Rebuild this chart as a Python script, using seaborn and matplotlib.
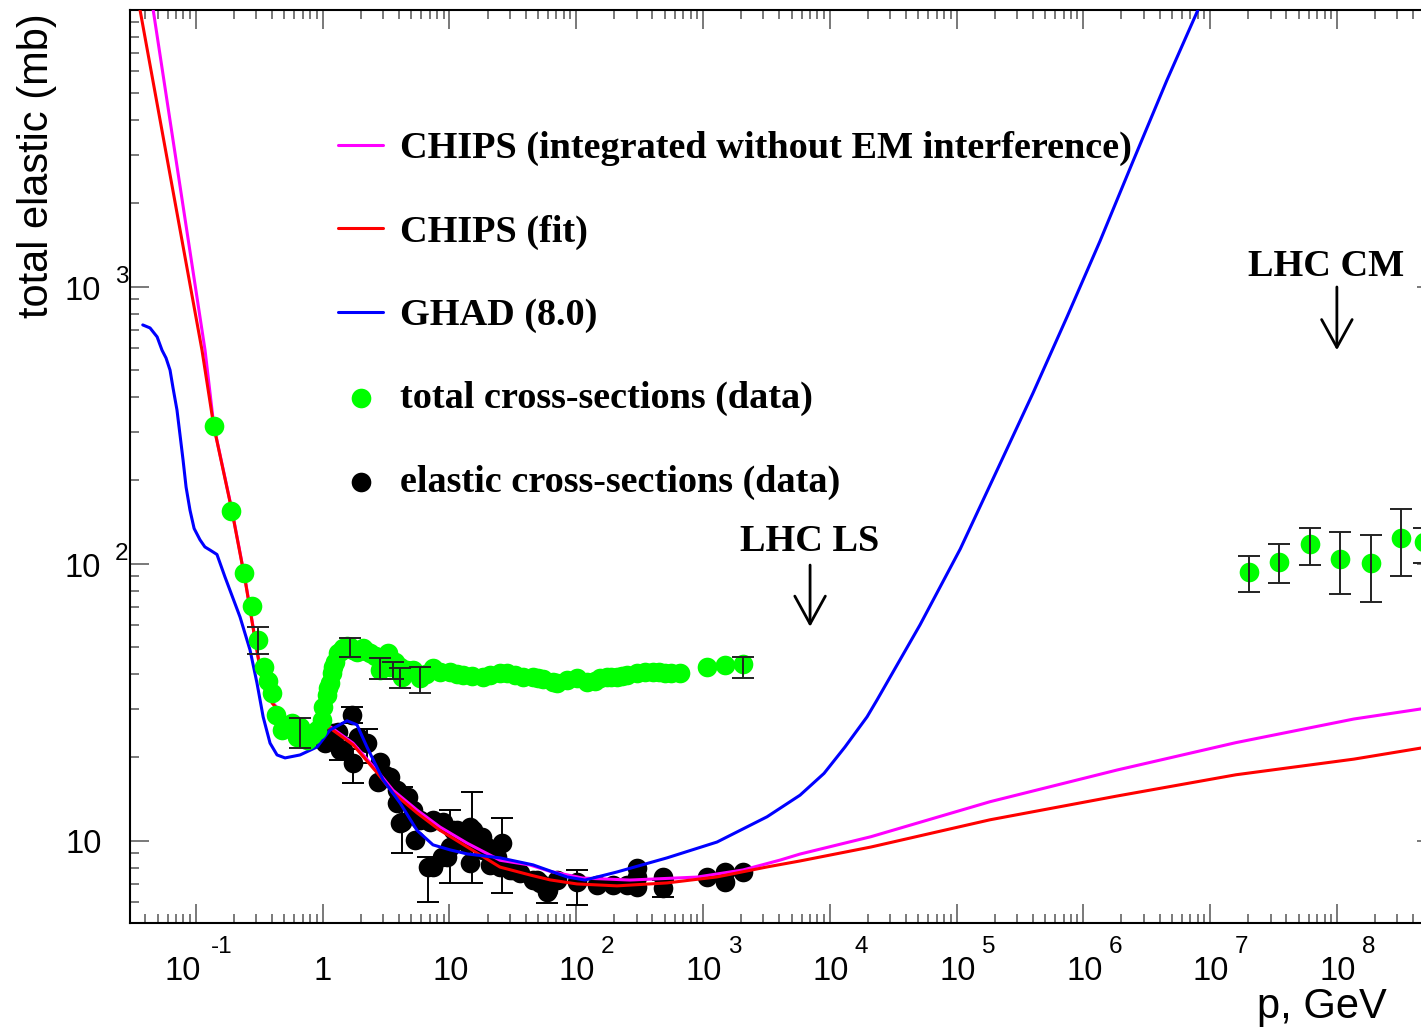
import numpy as np
import pandas as pd
import matplotlib
matplotlib.use("Agg")
import matplotlib.pyplot as plt
from matplotlib.ticker import LogLocator, NullFormatter, FixedLocator
from matplotlib.font_manager import FontProperties
import seaborn as sns

# ---------------- data ----------------
chips_int_p = [0.0447, 0.1184, 0.139, 0.193, 0.245, 0.294, 0.333, 0.400, 0.506, 0.769, 1.146,
               1.74, 2.69, 3.60, 5.56, 8.45, 13.8, 25.1, 43.3, 62.3, 113, 266, 898, 2070, 4055,
               5834, 21180, 1.84e5, 1.85e6, 1.6e7, 1.36e8, 4.6e8, 6.0e8]
chips_int_s = [11000, 590, 314, 156, 88, 53.5, 38.3, 31.7, 28.0, 26.0, 25.8,
               22.5, 17.9, 15.2, 12.9, 11.2, 9.8, 8.5, 8.17, 7.75, 7.33, 7.21, 7.39, 7.84, 8.51,
               8.95, 10.34, 13.83, 18.0, 22.6, 27.5, 29.9, 30.5]

chips_fit_p = [0.0355, 0.112, 0.139, 0.193, 0.245, 0.294, 0.333, 0.400, 0.506, 0.769, 1.146,
               1.74, 2.69, 3.60, 5.56, 8.45, 13.8, 25.1, 43.3, 62.3, 101.6, 210, 521, 1292, 3205,
               5834, 21180, 1.84e5, 1.85e6, 1.6e7, 1.36e8, 4.6e8, 6.0e8]
chips_fit_s = [10600, 590, 312, 155, 87.3, 53, 38, 31.4, 27.7, 25.7, 25.5,
               22.2, 17.6, 14.9, 12.6, 10.9, 9.5, 8.03, 7.52, 7.22, 6.98, 6.87, 7.04, 7.40, 8.04,
               8.45, 9.49, 11.9, 14.5, 17.3, 19.7, 21.6, 21.9]

ghad_p = [0.0382, 0.0436, 0.0496, 0.0542, 0.0583, 0.0627, 0.0662, 0.0711, 0.0752, 0.0794,
          0.0839, 0.0901, 0.0971, 0.108, 0.118, 0.1297, 0.147,
          0.170, 0.2235, 0.268, 0.304, 0.340, 0.3855, 0.4376, 0.506, 0.665, 0.906, 1.146, 1.56,
          1.87, 2.24, 3.00, 4.08, 5.56, 7.43, 10.1, 13.8, 25.1, 45.7, 84.7, 117.5, 210, 521,
          1292, 3205, 5834, 9020, 13200, 19700, 23600, 51500, 1.07e5, 2.20e5, 4.01e5, 7.43e5,
          1.355e6, 2.47e6, 4.57e6, 8.02e6, 1.0e7]
ghad_s = [728, 710, 659, 590, 553, 500, 431, 359, 291, 237,
          189, 156, 134, 122, 115, 112, 108,
          89.6, 64.2, 48.8, 37.1, 28.0, 22.5, 20.4, 19.9, 20.4, 21.8, 25.1, 27.1,
          26.2, 21.8, 16.6, 13.7, 10.9, 9.66, 9.27, 8.96, 8.67, 8.18, 7.40, 7.21, 7.71, 8.67,
          9.89, 12.2, 14.6, 17.5, 21.8, 28.0, 32.2, 60.1, 113, 229, 413, 777,
          1462, 2843, 5574, 9980, 12300]

tot_p = [0.139, 0.190, 0.240, 0.278, 0.310, 0.346, 0.372, 0.400, 0.430, 0.480, 0.575, 0.630,
         0.665, 0.755, 0.827, 0.906, 0.991, 1.009, 1.084, 1.10, 1.146, 1.188, 1.22, 1.255, 1.325,
         1.40, 1.452, 1.55, 1.648, 1.75, 1.87, 2.085, 2.20, 2.37, 2.60, 2.74, 2.84, 3.00, 3.29,
         3.41, 3.70, 4.08, 4.24, 4.60, 5.17, 5.87, 6.50, 7.44, 8.50, 10.1, 11.5, 12.8, 15.0,
         18.4, 21.0, 25.1, 28.5, 33.0, 38.1, 45.7, 50.1, 55.0, 65.8, 70.7, 85.0, 101.6, 122,
         140, 154, 175, 190, 210, 230, 252, 302, 350, 404, 450, 502, 560, 659, 1076, 1493, 2070,
         2.03e7, 3.49e7, 6.13e7, 1.06e8, 1.86e8, 3.2e8, 4.9e8]
tot_s = [314, 155, 92.7, 70.5, 53.1, 42.4, 37.7, 34.2, 28.4, 25.1, 26.6, 23.7,
         25.8, 23.1, 24.1, 25.1, 27.3, 30.4, 33.6, 35.5, 37.1, 40.3, 42.5, 44.2, 47.6,
         48.5, 49.6, 50.5, 50.0, 49.0, 48.0, 49.6, 48.5, 47.6, 46.5, 46.0, 41.3, 45.5, 47.6,
         42.4, 44.0, 42.4, 39.0, 41.5, 41.3, 38.6, 40.0, 42.0, 40.5, 40.6, 40.0, 39.6, 39.3,
         39.0, 39.5, 40.3, 40.3, 39.5, 39.0, 39.0, 38.6, 38.3, 37.4, 37.1, 38.0, 38.6, 37.4,
         37.8, 38.6, 39.0, 39.0, 39.0, 39.3, 39.6, 40.3, 40.5, 40.6, 40.6, 40.3, 40.3, 40.3,
         42.4, 43.1, 43.4,
         93.3, 101.4, 117.8, 104, 100.6, 124, 119.8]
tot_err_p = [0.310, 0.665, 1.648, 2.84, 3.60, 4.08, 5.87, 2070,
             2.03e7, 3.49e7, 6.13e7, 1.06e8, 1.86e8, 3.2e8, 4.9e8]
tot_err_c = [53.1, 25.8, 50.0, 41.3, 41.5, 39.0, 38.6, 43.4,
             93.3, 101.4, 117.8, 104, 100.6, 124, 119.8]
tot_err_lo = [47.2, 21.6, 46.0, 38.4, 38.2, 35.6, 34.1, 38.6,
              79.1, 85.2, 98.9, 77.8, 72.8, 90.3, 100.7]
tot_err_hi = [59.2, 27.7, 54.0, 45.6, 44.0, 42.0, 42.4, 46.0,
              106.6, 117.8, 134.5, 130, 127, 158, 134.5]

el_p = [1.05, 1.15, 1.21, 1.33, 1.37, 1.45, 1.71, 1.74, 1.91, 2.24, 2.84, 2.74, 3.11, 3.41,
        3.87, 3.87, 4.24, 4.73, 4.08, 5.17, 5.36, 5.87, 7.05, 6.79, 7.44, 7.44, 8.76, 8.92,
        9.59, 10.1, 10.7, 11.5, 12.8, 13.8, 14.6, 14.6, 15.1, 15.4, 18.1, 18.4, 19.8, 20.9,
        21.7, 23.8, 25.1, 26.1, 30.1, 31.8, 36.1, 45.7, 49.2, 51.9, 58.9, 60.0, 70.7, 102,
        146, 196, 252, 302, 302, 302, 484, 484, 1076, 1493, 1493, 2070]
el_s = [22.5, 24.1, 24.5, 24.7, 21.3, 21.3, 28.4, 19.1, 23.7, 22.5, 19.2, 16.3, 17.3, 17.0,
        15.2, 13.7, 11.7, 14.4, 11.6, 12.9, 10.1, 11.9, 11.7, 8.04, 11.9, 8.04, 8.73, 11.7,
        8.73, 9.5, 10.9, 10.9, 10.1, 9.81, 11.2, 8.31, 10.3, 10.9, 10.3, 9.26, 9.49, 8.17,
        8.66, 8.73, 8.04, 9.81, 7.84, 7.84, 7.64, 7.21, 7.21, 7.04, 6.53, 6.64, 7.21, 7.10,
        6.92, 6.92, 6.92, 7.97, 6.81, 7.40, 7.40, 6.75, 7.40, 7.71, 7.10, 7.71]
el_err_p = [1.37, 1.71, 1.74, 2.24, 4.24, 6.79, 10.1, 15.1, 26.1, 58.9, 102, 484]
el_err_c = [21.3, 28.4, 19.1, 22.5, 11.7, 8.04, 9.5, 10.3, 9.81, 6.53, 7.10, 6.75]
el_err_lo = [19.5, 26.6, 16.2, 19.1, 9.0, 6.0, 7.04, 7.04, 6.45, 5.96, 5.86, 6.26]
el_err_hi = [23.5, 30.4, 21.5, 25.4, 15.6, 8.73, 12.9, 15.0, 12.1, 7.04, 7.84, 7.20]

lhc_ls_p, lhc_ls_text_s, lhc_ls_arrow = 7000, 111, (98.9, 59.2)
lhc_cm_p, lhc_cm_text_p, lhc_cm_text_s, lhc_cm_arrow = 1.0e8, 8.28e7, 1094, (998, 590)

x_decades = [-1, 0, 1, 2, 3, 4, 5, 6, 7, 8]
y_decades = [1, 2, 3]

labels = {
    "int": "CHIPS (integrated without EM interference)",
    "fit": "CHIPS (fit)",
    "ghad": "GHAD (8.0)",
    "tot": "total cross-sections (data)",
    "el": "elastic cross-sections (data)",
}

# ---------------- style ----------------
sns.set_style("ticks")
plt.rcParams["font.family"] = ["Liberation Sans", "DejaVu Sans"]
plt.rcParams["text.color"] = "black"
plt.rcParams["axes.labelcolor"] = "black"

W, H = 1421, 1031
fig = plt.figure(figsize=(W / 100, H / 100), dpi=100)
ax = fig.add_axes([130 / W, 108 / H, 1306 / W, 913 / H])

lw = 2.2
msize = 200

# elastic data (under the curves)
ax.errorbar(el_err_p, el_err_c,
            yerr=[np.array(el_err_c) - np.array(el_err_lo), np.array(el_err_hi) - np.array(el_err_c)],
            fmt="none", ecolor="black", elinewidth=1.4, capsize=8, capthick=1.4, zorder=2,
            label="_nolegend_")
sns.scatterplot(x=el_p, y=el_s, ax=ax, color="black", s=msize, linewidth=0, zorder=2.2,
                label=labels["el"])

# curves
sns.lineplot(x=chips_int_p, y=chips_int_s, ax=ax, color="#ff00ff", linewidth=lw,
             sort=False, estimator=None, zorder=3, label=labels["int"])
sns.lineplot(x=chips_fit_p, y=chips_fit_s, ax=ax, color="#ff0000", linewidth=lw,
             sort=False, estimator=None, zorder=3.1, label=labels["fit"])
sns.lineplot(x=ghad_p, y=ghad_s, ax=ax, color="#0000ff", linewidth=lw,
             sort=False, estimator=None, zorder=3.2, label=labels["ghad"])

# total data (on top)
sns.scatterplot(x=tot_p, y=tot_s, ax=ax, color="#00ff00", s=msize, linewidth=0, zorder=4,
                label=labels["tot"])
ax.errorbar(tot_err_p, tot_err_c,
            yerr=[np.array(tot_err_c) - np.array(tot_err_lo), np.array(tot_err_hi) - np.array(tot_err_c)],
            fmt="none", ecolor="#222222", elinewidth=1.4, capsize=8, capthick=1.4, zorder=5,
            label="_nolegend_")

# ---------------- axes ----------------
ax.set_xscale("log")
ax.set_yscale("log")
ax.set_xlim(0.0303, 6.05e8)
ax.set_ylim(5.045, 9980)

ax.xaxis.set_major_locator(FixedLocator([10.0 ** e for e in x_decades]))
ax.xaxis.set_minor_locator(LogLocator(base=10, subs=np.arange(2, 10), numticks=1000))
ax.yaxis.set_major_locator(FixedLocator([10.0 ** e for e in y_decades]))
ax.yaxis.set_minor_locator(LogLocator(base=10, subs=np.arange(2, 10), numticks=1000))
for a in (ax.xaxis, ax.yaxis):
    a.set_major_formatter(NullFormatter())
    a.set_minor_formatter(NullFormatter())

ax.tick_params(which="both", direction="in", top=True, right=True, color="#555555",
               width=1.1)
ax.tick_params(which="major", length=13.7)
ax.tick_params(which="minor", length=6.5)
for s in ax.spines.values():
    s.set_linewidth(1.5)
    s.set_color("black")

ax.set_ylabel("")
ax.set_xlabel("")

# tick labels ROOT-style
tfs, efs = 23.5, 17.5
for e in x_decades:
    t = 10.0 ** e
    if e == 0:
        ax.annotate("1", xy=(t, 0), xycoords=("data", "axes fraction"), xytext=(0, -57),
                    textcoords="offset pixels", ha="center", va="baseline", fontsize=tfs)
    elif e == 1:
        ax.annotate("10", xy=(t, 0), xycoords=("data", "axes fraction"), xytext=(1, -57),
                    textcoords="offset pixels", ha="center", va="baseline", fontsize=tfs)
    elif e < 0:
        ax.annotate("10", xy=(t, 0), xycoords=("data", "axes fraction"), xytext=(-13, -57),
                    textcoords="offset pixels", ha="center", va="baseline", fontsize=tfs)
        ax.annotate(str(e), xy=(t, 0), xycoords=("data", "axes fraction"), xytext=(15, -30),
                    textcoords="offset pixels", ha="left", va="baseline", fontsize=efs)
    else:
        ax.annotate("10", xy=(t, 0), xycoords=("data", "axes fraction"), xytext=(1, -57),
                    textcoords="offset pixels", ha="center", va="baseline", fontsize=tfs)
        ax.annotate(str(e), xy=(t, 0), xycoords=("data", "axes fraction"), xytext=(25, -30),
                    textcoords="offset pixels", ha="left", va="baseline", fontsize=efs)

for e in y_decades:
    t = 10.0 ** e
    if e == 1:
        ax.annotate("10", xy=(0, t), xycoords=("axes fraction", "data"), xytext=(-28, -12),
                    textcoords="offset pixels", ha="right", va="baseline", fontsize=tfs)
    else:
        ax.annotate("10", xy=(0, t), xycoords=("axes fraction", "data"), xytext=(-29, -13),
                    textcoords="offset pixels", ha="right", va="baseline", fontsize=tfs)
        ax.annotate(str(e), xy=(0, t), xycoords=("axes fraction", "data"), xytext=(-15, 4),
                    textcoords="offset pixels", ha="left", va="baseline", fontsize=efs)

fig.text(57 / W, 1 - 13 / H, "total elastic (mb)", rotation=90, ha="right", va="top",
         fontsize=30)
fig.text(1387 / W, 1 - 1018 / H, "p, GeV", ha="right", va="baseline", fontsize=30)

# annotations
serif_b = FontProperties(family=["Liberation Serif", "DejaVu Serif"], weight="bold", size=27.5)
arrow_kw = dict(arrowstyle="->,head_length=1.0,head_width=0.55", lw=2.0, color="black",
                shrinkA=0, shrinkB=0, mutation_scale=20)
ax.text(lhc_ls_p, lhc_ls_text_s, "LHC LS", ha="center", va="baseline", fontproperties=serif_b)
ax.annotate("", xy=(lhc_ls_p, lhc_ls_arrow[1]), xytext=(lhc_ls_p, lhc_ls_arrow[0]),
            arrowprops=arrow_kw)
ax.text(lhc_cm_text_p, lhc_cm_text_s, "LHC CM", ha="center", va="baseline", fontproperties=serif_b)
ax.annotate("", xy=(lhc_cm_p, lhc_cm_arrow[1]), xytext=(lhc_cm_p, lhc_cm_arrow[0]),
            arrowprops=arrow_kw)

# legend
hs, ls = ax.get_legend_handles_labels()
order = [labels[k] for k in ["int", "fit", "ghad", "tot", "el"]]
hmap = dict(zip(ls, hs))
leg = ax.legend([hmap[l] for l in order], order, loc="upper left",
                bbox_to_anchor=(338 / W, 1 - 131 / H), bbox_transform=fig.transFigure,
                frameon=False, prop=serif_b, handlelength=1.18, handletextpad=0.45,
                labelspacing=1.265, borderpad=0, borderaxespad=0, scatterpoints=1)
for t in leg.get_texts():
    t.set_color("black")

fig.savefig("out.png", dpi=100)
